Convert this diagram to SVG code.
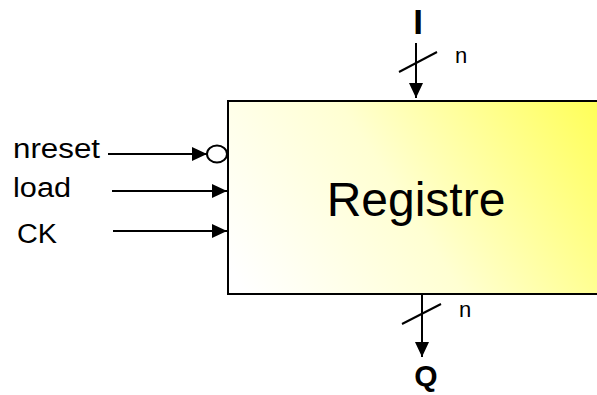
<svg xmlns="http://www.w3.org/2000/svg" width="597" height="395" viewBox="0 0 597 395">
<style>
.ln{stroke:#000;stroke-width:2;fill:none}
.lbl{font-family:"Liberation Sans",Arial,sans-serif;fill:#000}
</style>
<defs>
<linearGradient id="g" gradientUnits="userSpaceOnUse" x1="250" y1="300" x2="590" y2="80">
<stop offset="0" stop-color="#FFFFFF"/>
<stop offset="0.45" stop-color="#FFFFD2"/>
<stop offset="1" stop-color="#FFFF55"/>
</linearGradient>
<marker id="ah" markerWidth="16" markerHeight="16" refX="15" refY="8" orient="auto" markerUnits="userSpaceOnUse">
<path d="M0,1 L15,8 L0,15 Z" fill="#000"/>
</marker>
</defs>
<g id="registre">
<rect x="228" y="101" width="380" height="193" fill="url(#g)" stroke="#000" stroke-width="2"/>
<text class="lbl" x="416" y="216" font-size="48" text-anchor="middle">Registre</text>
</g>
<g id="labels">
<text class="lbl" x="13" y="158" font-size="27" textLength="87" lengthAdjust="spacingAndGlyphs">nreset</text>
<text class="lbl" x="13" y="197" font-size="27" textLength="58" lengthAdjust="spacingAndGlyphs">load</text>
<text class="lbl" x="17" y="243" font-size="27" textLength="40" lengthAdjust="spacingAndGlyphs">CK</text>
<text class="lbl" x="418" y="34" font-size="35" font-weight="bold" text-anchor="middle">I</text>
<text class="lbl" x="426" y="386" font-size="30" font-weight="bold" text-anchor="middle">Q</text>
<text class="lbl" x="455" y="63" font-size="22">n</text>
<text class="lbl" x="459" y="317" font-size="22">n</text>
</g>
<g id="connectors">
<line class="ln" x1="108" y1="154" x2="207" y2="154" marker-end="url(#ah)"/>
<ellipse cx="217" cy="154" rx="10" ry="8.5" fill="#fff" stroke="#000" stroke-width="2"/>
<line class="ln" x1="112" y1="191" x2="227" y2="191" marker-end="url(#ah)"/>
<line class="ln" x1="113" y1="231" x2="227" y2="231" marker-end="url(#ah)"/>
<line class="ln" x1="416" y1="43" x2="416" y2="98" marker-end="url(#ah)"/>
<line class="ln" x1="399" y1="72" x2="437" y2="52"/>
<line class="ln" x1="422" y1="294" x2="422" y2="357" marker-end="url(#ah)"/>
<line class="ln" x1="402" y1="324" x2="441" y2="304"/>
</g>
</svg>
